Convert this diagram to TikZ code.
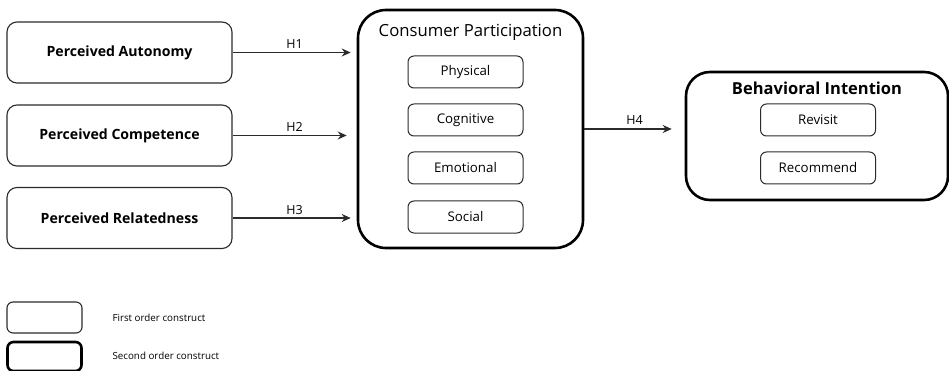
\documentclass[tikz,border=0pt]{standalone}
\usepackage{fontspec}
\setmainfont{Open Sans}
\usetikzlibrary{arrows.meta}
\definecolor{inkgray}{HTML}{2B2B2B}
\begin{document}
\begin{tikzpicture}[x=1pt,y=-1pt,
    firstbox/.style={draw=inkgray, line width=1.1pt, rounded corners=10pt, minimum width=225pt, minimum height=61pt, inner sep=0pt, font=\bfseries\fontsize{14.1}{16}\selectfont},
    itembox/.style={draw=inkgray, line width=1pt, rounded corners=6pt, minimum width=115pt, minimum height=32pt, inner sep=0pt, font=\fontsize{13.3}{15}\selectfont},
    secondbox/.style={draw=black, line width=2.6pt, rounded corners=28pt, inner sep=0pt},
    hyp/.style={draw=inkgray, line width=1.1pt, -{Stealth[length=9pt,width=8pt]}},
    hlabel/.style={font=\fontsize{12.5}{14}\selectfont, inner sep=1pt}]
  \useasboundingbox (0,0) rectangle (949,371);
  % second order constructs
  \node[secondbox, minimum width=225pt, minimum height=238pt] (cp) at (470.5,129) {};
  \node[font=\fontsize{16.7}{19}\selectfont] (cpt) at (470.5,32) {Consumer Participation};
  \node[secondbox, minimum width=262pt, minimum height=128pt, rounded corners=24pt] (bi) at (817,136) {};
  \node[font=\bfseries\fontsize{16.5}{19}\selectfont] (bit) at (817,88) {Behavioral Intention};
  % first order constructs
  \node[firstbox] (pa) at (119.5,52.5) {Perceived Autonomy};
  \node[firstbox] (pc) at (119.5,135.5) {Perceived Competence};
  \node[firstbox] (pr) at (119.5,218) {Perceived Relatedness};
  \node[itembox] (phy) at (465.5,72) {Physical};
  \node[itembox] (cog) at (465.5,120) {Cognitive};
  \node[itembox] (emo) at (465.5,168) {Emotional};
  \node[itembox] (soc) at (465.5,217) {Social};
  \node[itembox] (rev) at (818,120) {Revisit};
  \node[itembox] (rec) at (818,168) {Recommend};
  % hypotheses
  \draw[hyp, shorten >=6pt] (pa.east) -- (pa.east -| cp.west) node[hlabel, midway, above=2pt] {H1};
  \draw[hyp, shorten >=10pt] (pc.east) -- (pc.east -| cp.west) node[hlabel, midway, above=2pt] {H2};
  \draw[hyp, shorten >=6pt] (pr.east) -- (pr.east -| cp.west) node[hlabel, midway, above=2pt] {H3};
  \coordinate (h4s) at (cp.east |- 0,129);
  \draw[hyp, shorten >=13pt] (h4s) -- (h4s -| bi.west) node[hlabel, midway, above=3pt] {H4};
  % legend
  \node[draw=inkgray, line width=1.1pt, rounded corners=6pt, minimum width=75pt, minimum height=31pt] (lg1) at (44.5,317.5) {};
  \node[draw=black, line width=2.6pt, rounded corners=6pt, minimum width=74pt, minimum height=29pt] (lg2) at (44.5,356.5) {};
  \node[anchor=west, font=\fontsize{9.8}{11}\selectfont] (lt1) at (109,318) {First order construct};
  \node[anchor=west, font=\fontsize{9.8}{11}\selectfont] (lt2) at (109,356) {Second order construct};
\end{tikzpicture}
\end{document}
